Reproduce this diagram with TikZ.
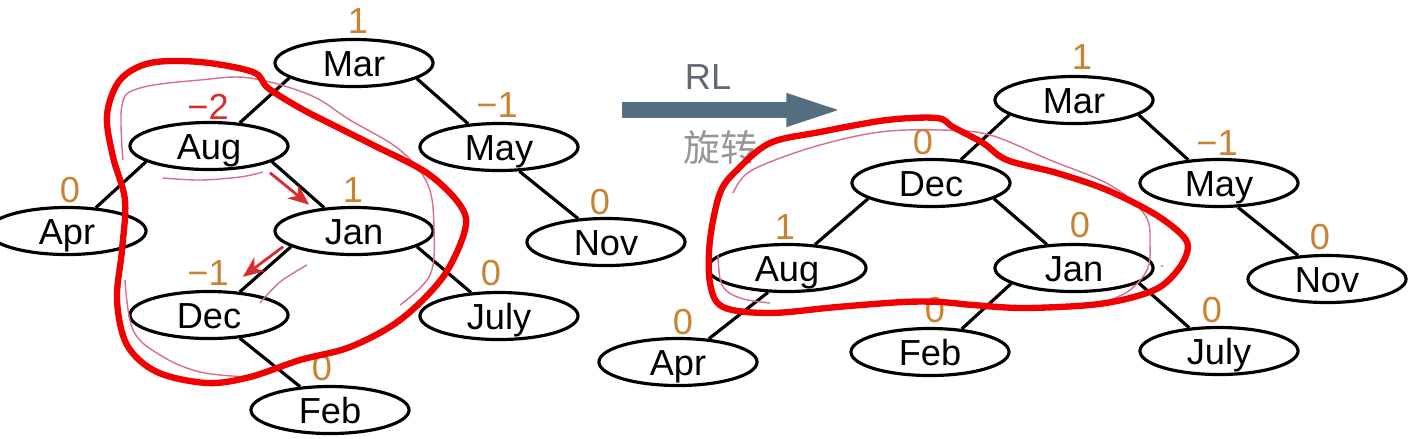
\documentclass[tikz,border=0pt]{standalone}
\usepackage{fontspec}
\setmainfont{Liberation Sans}
\newfontfamily\cjk{Noto Sans CJK SC}
\usetikzlibrary{shapes.geometric,arrows.meta}
\definecolor{balorange}{RGB}{200,130,50}
\definecolor{balred}{RGB}{215,45,45}
\definecolor{rotslate}{RGB}{84,110,130}
\definecolor{rltext}{RGB}{95,105,115}
\definecolor{cjkgray}{RGB}{150,150,150}
\definecolor{penred}{RGB}{240,0,0}
\definecolor{penpink}{RGB}{215,110,140}
\tikzset{
  month/.style={draw,ellipse,line width=0.9pt,minimum width=1.58cm,minimum height=0.47cm,
    inner sep=0pt,text height=8pt,text depth=0.6pt,font=\fontsize{10.3}{12}\selectfont},
  bal/.style={text=balorange,inner sep=0pt,font=\fontsize{10.3}{12}\selectfont},
  link/.style={line width=0.9pt},
  turn/.style={draw=balred,line width=0.8pt,-{Stealth[length=6pt,width=5pt]}},
  bigarrow/.style={draw=rotslate,line width=4.3pt,-{Triangle[length=17.5pt,width=8pt]}},
  redink/.style={draw=penred,line width=1.8pt,line cap=round,line join=round},
  pinkink/.style={draw=penpink,line width=0.4pt}
}

\begin{document}
\begin{tikzpicture}[x=.01cm,y=-.01cm]
  \useasboundingbox (0,0) rectangle (1409,438);
  % before: left tree
  \node[month] (marL) at (354,63) {Mar};
  \node[month] (augL) at (209,146) {Aug};
  \node[month] (mayL) at (499,147) {May};
  \node[month] (aprL) at (67,231) {Apr};
  \node[month] (janL) at (354,231) {Jan};
  \node[month] (novL) at (606,242) {Nov};
  \node[month] (decL) at (209,315) {Dec};
  \node[month] (julyL) at (499,316) {July};
  \node[month] (febL) at (330,410) {Feb};
  \node[bal] (marLb) at (358,21) {1};
  \node[bal,text=balred] (augLb) at (208,107) {−2};
  \node[bal] (mayLb) at (497,105) {−1};
  \node[bal] (aprLb) at (70,190) {0};
  \node[bal] (janLb) at (353,190) {1};
  \node[bal] (novLb) at (600,202) {0};
  \node[bal] (decLb) at (208,273) {−1};
  \node[bal] (julyLb) at (491,273) {0};
  \node[bal] (febLb) at (322,368) {0};
  \draw[link] (marL.193) -- (augL.37);
  \draw[link] (marL.346) -- (mayL.143);
  \draw[link] (augL.194) -- (aprL.39);
  \draw[link] (augL.346) -- (janL.142);
  \draw[link] (janL.194) -- (decL.37);
  \draw[link] (janL.346) -- (julyL.140);
  \draw[link] (decL.323) -- (febL.142);
  \draw[link] (mayL.310) -- (novL.140);
  \draw[turn] ([shift={(-2,11)}]augL.346) -- ([shift={(-15,-3)}]janL.142);
  \draw[turn] ([shift={(-8,0)}]janL.194) -- ([shift={(3,-15)}]decL.37);

  % rotation arrow
  \coordinate (rlfrom) at (622,110);
  \coordinate (rlto) at (848,110);
  \draw[bigarrow] (rlfrom) -- (rlto);
  \node[text=rltext,font=\fontsize{10.3}{12}\selectfont] (rl) at (708,77) {RL};
  \node[text=cjkgray,font=\cjk\fontsize{10.5}{12}\selectfont] (xuanzhuan) at (720,147) {旋转};

  % after: right tree
  \node[month] (marR) at (1074,100) {Mar};
  \node[month] (decR) at (931,183) {Dec};
  \node[month] (mayR) at (1219,183) {May};
  \node[month] (augR) at (787,268) {Aug};
  \node[month] (janR) at (1074,268) {Jan};
  \node[month] (novR) at (1327,279) {Nov};
  \node[month] (aprR) at (678,362) {Apr};
  \node[month] (febR) at (930,352) {Feb};
  \node[month] (julyR) at (1219,351) {July};
  \node[bal] (marRb) at (1082,57) {1};
  \node[bal] (decRb) at (923,142) {0};
  \node[bal] (mayRb) at (1217,143) {−1};
  \node[bal] (augRb) at (785,227) {1};
  \node[bal] (janRb) at (1080,225) {0};
  \node[bal] (novRb) at (1320,237) {0};
  \node[bal] (aprRb) at (683,322) {0};
  \node[bal] (febRb) at (935,310) {0};
  \node[bal] (julyRb) at (1212,310) {0};
  \draw[link] (marR.193) -- (decR.38);
  \draw[link] (marR.347) -- (mayR.143);
  \draw[link] (decR.194) -- (augR.40);
  \draw[link] (decR.346) -- (janR.139);
  \draw[link] (augR.232) -- (aprR.37);
  \draw[link] (janR.194) -- (febR.36);
  \draw[link] (janR.347) -- (julyR.142);
  \draw[link] (mayR.308) -- (novR.141);

  % hand-drawn marks
  \draw[pinkink] plot[smooth,tension=.6] coordinates {(123,160) (122,105) (140,88) (200,80) (250,78) (310,95) (350,120) (400,150) (428,185) (434,230) (430,275) (400,305)};
  \draw[pinkink] plot[smooth,tension=.6] coordinates {(125,280) (133,330) (160,355) (200,372) (250,377)};
  \draw[pinkink] plot[smooth,tension=.6] coordinates {(163,178) (200,180) (240,177) (263,172)};
  \draw[pinkink] plot[smooth,tension=.6] coordinates {(260,303) (280,282) (307,265)};
  \draw[redink] plot[smooth cycle,tension=.55] coordinates {(253,72) (200,62) (150,63) (120,80) (107,115) (113,157) (125,200) (122,250) (117,300) (127,345) (157,372) (207,383) (250,377) (300,360) (350,347) (400,320) (443,277) (465,230) (460,205) (427,173) (373,145) (333,125) (300,108) (268,88)};
  \draw[pinkink] plot[smooth,tension=.6] coordinates {(733,193) (745,175) (770,162) (820,145) (880,132) (940,130) (990,135) (1050,160) (1110,185) (1145,215) (1150,245) (1147,270) (1130,290) (1110,300)};
  \draw[pinkink] plot[smooth,tension=.6] coordinates {(718,255) (722,285) (740,298) (770,303)};
  \fill[penpink] (1162,266) circle (1.2);
  \draw[redink] plot[smooth cycle,tension=.55] coordinates {(937,118) (953,127) (983,143) (1007,160) (1057,173) (1107,190) (1153,213) (1180,233) (1188,247) (1180,267) (1160,287) (1130,298) (1090,305) (1023,308) (973,305) (940,302) (903,302) (837,307) (770,313) (723,307) (710,283) (710,240) (720,193) (737,170) (770,143) (820,132) (887,120)};
\end{tikzpicture}
\end{document}
